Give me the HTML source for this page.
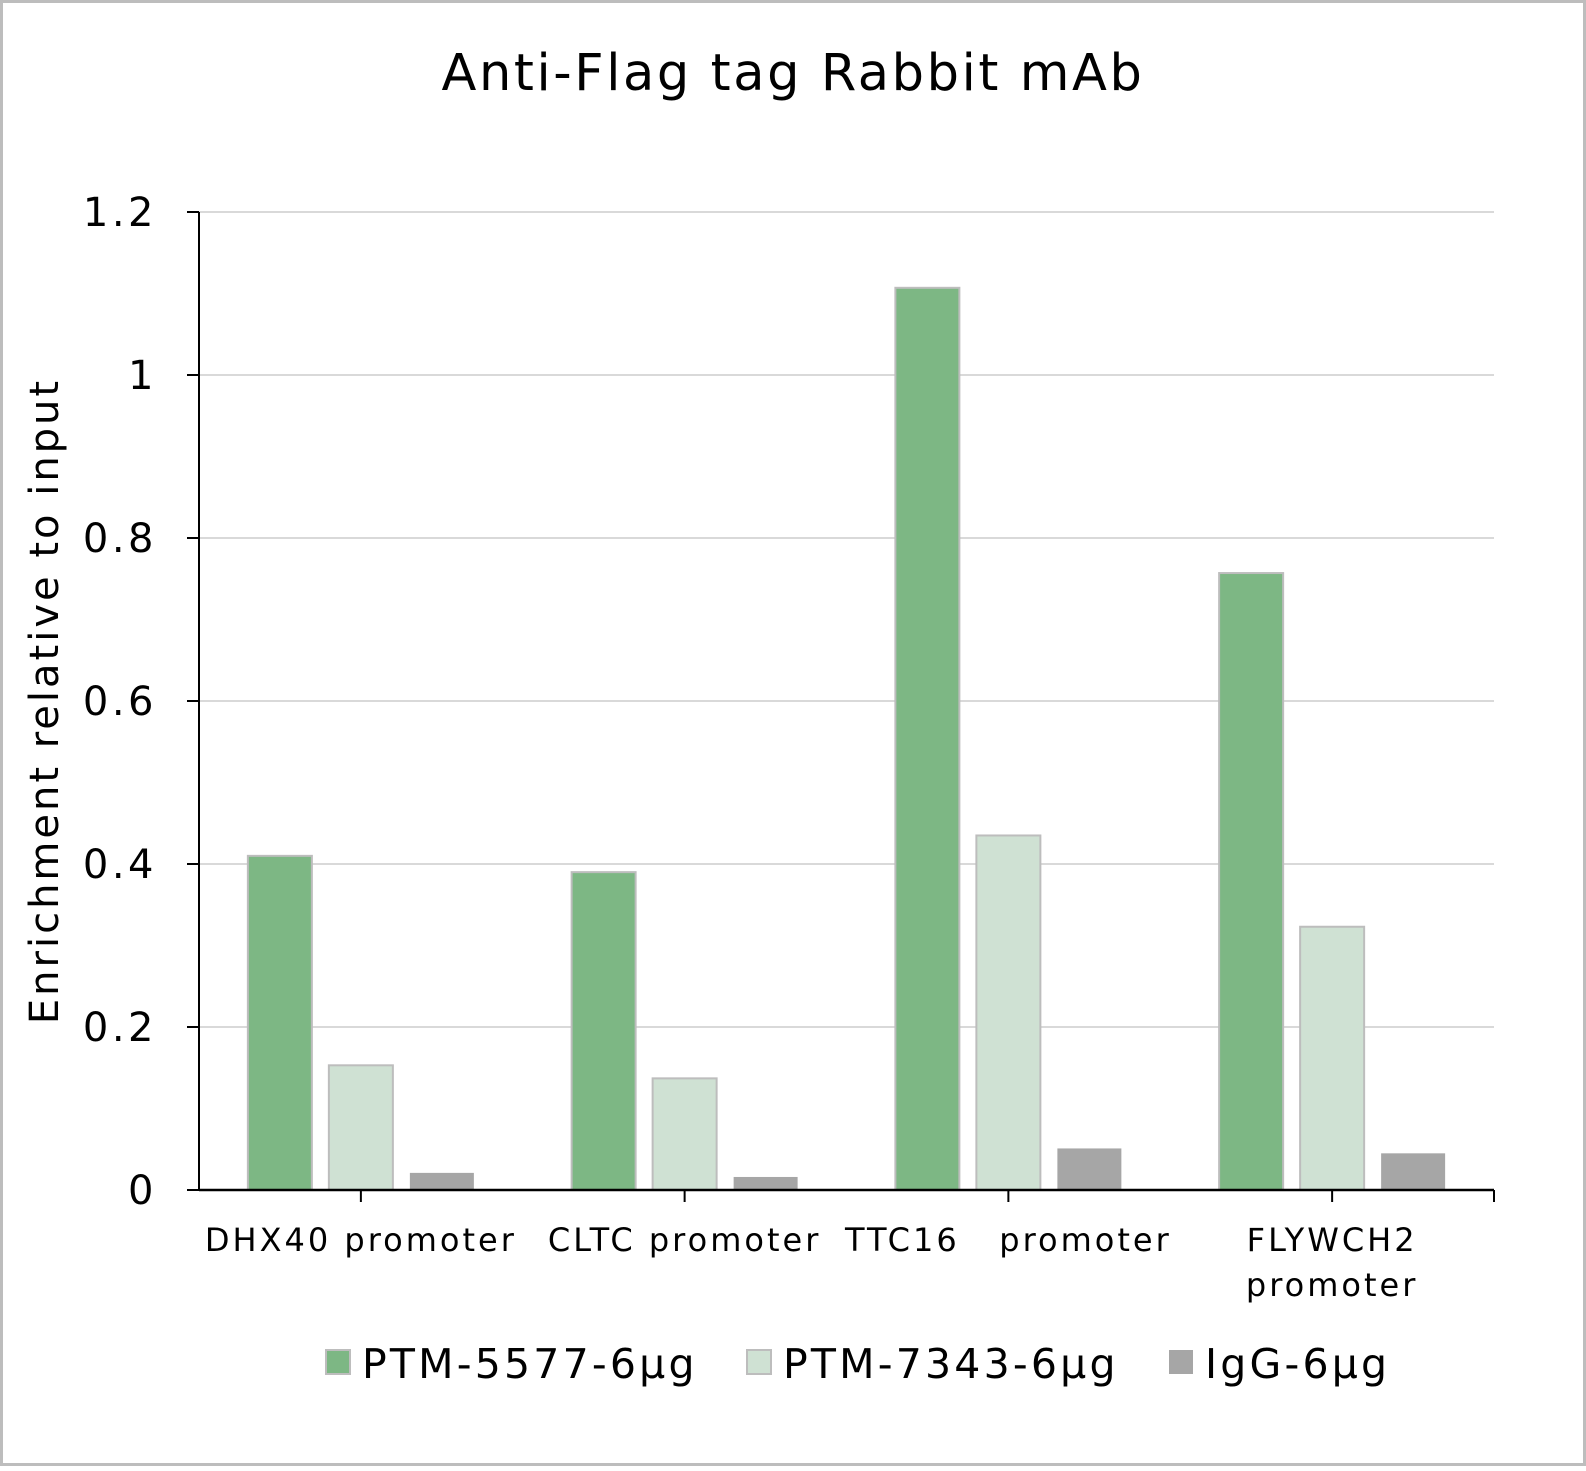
<!DOCTYPE html>
<html><head><meta charset="utf-8"><style>
body{margin:0;background:#fff}
svg text{font-family:"DejaVu Sans","Liberation Sans",sans-serif;fill:#000}
</style></head><body>
<svg width="1586" height="1466" xmlns="http://www.w3.org/2000/svg">
<rect x="1.5" y="1.5" width="1583" height="1463" fill="#fff" stroke="#bdbdbd" stroke-width="3"/>
<text x="793" y="90" font-size="51" letter-spacing="2.6" text-anchor="middle">Anti-Flag tag Rabbit mAb</text>
<g id="plot"></g>
<text transform="translate(58,701) rotate(-90)" font-size="40" letter-spacing="3" text-anchor="middle">Enrichment relative to input</text>
</svg>
<script>
const categories=[["DHX40 promoter"],["CLTC promoter"],["TTC16   promoter"],["FLYWCH2","promoter"]];
const seriesNames=["PTM-5577-6μg","PTM-7343-6μg","IgG-6μg"];
const s1=[0.41,0.39,1.107,0.757];
const s2=[0.153,0.137,0.435,0.323];
const s3=[0.021,0.016,0.051,0.045];
const yTicks=[0,0.2,0.4,0.6,0.8,1,1.2];
const yTickLabels=["0","0.2","0.4","0.6","0.8","1","1.2"];
const NS="http://www.w3.org/2000/svg";
const g=document.getElementById('plot');
const x0=199,x1=1494,y0=1190,yTop=212,yMax=1.2;
const y=v=>y0-(v/yMax)*(y0-yTop);
const cw=(x1-x0)/categories.length;
const colors=["#7db784","#cfe1d3","#a6a6a6"];
function mk(t,a){const e=document.createElementNS(NS,t);for(const k in a)e.setAttribute(k,a[k]);g.appendChild(e);return e;}
yTicks.forEach((v,i)=>{
 if(v>0){const l=mk('line',{x1:x0,x2:x1,y1:y(v),y2:y(v),stroke:'#d9d9d9','stroke-width':2});
 
 }
 const t=mk('line',{x1:x0-12,x2:x0,y1:y(v),y2:y(v),stroke:'#000','stroke-width':2});
 
 
 const tx=mk('text',{x:157,y:y(v)+14,'font-size':40,'letter-spacing':3.5,'text-anchor':'end'});tx.textContent=yTickLabels[i];
 
 
});
const series=[s1,s2,s3];
categories.forEach((c,i)=>{
 const cx=x0+cw*(i+0.5);
 series.forEach((s,j)=>{
  const bx=cx-113+j*81;
  const r=mk('rect',{x:bx,y:y(s[i]),width:64,height:y0-y(s[i]),fill:colors[j],stroke:j<2?'#bdbdbd':'none','stroke-width':2});
  
  
 });
 const tk=mk('line',{x1:cx,x2:cx,y1:y0,y2:y0+12,stroke:'#000','stroke-width':2});
 
 
 c.forEach((line,k)=>{
  const t=mk('text',{x:cx,y:1251+k*45,'font-size':32,'letter-spacing':3,'text-anchor':'middle'});t.textContent=line;
  
  
  t.style.whiteSpace='pre';
 });
});
const tkEnd=mk('line',{x1:x1,x2:x1,y1:y0,y2:y0+12,stroke:'#000','stroke-width':2});


const ya=mk('line',{x1:x0,x2:x0,y1:yTop,y2:y0,stroke:'#000','stroke-width':2});


const xa=mk('line',{x1:x0,x2:x1,y1:y0,y2:y0,stroke:'#000','stroke-width':2.5});


const lx=[326,747,1169];
seriesNames.forEach((n,j)=>{
 const r=mk('rect',{x:lx[j],y:1350,width:24,height:24,fill:colors[j],stroke:j<2?'#bdbdbd':'none','stroke-width':2});
 
 
 const t=mk('text',{x:lx[j]+36,y:1378,'font-size':41,'letter-spacing':3.2});t.textContent=n;
 
 
});
</script>
</body></html>
